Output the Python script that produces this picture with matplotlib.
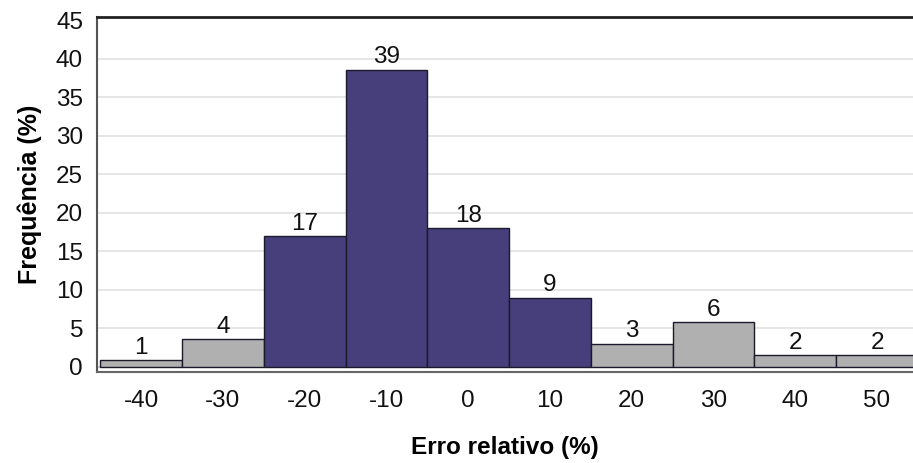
import matplotlib
matplotlib.use("Agg")
import matplotlib.pyplot as plt

categories = ["-40", "-30", "-20", "-10", "0", "10", "20", "30", "40", "50"]
heights = [0.9, 3.6, 17.0, 38.6, 18.0, 9.0, 3.0, 5.8, 1.5, 1.5]
labels = ["1", "4", "17", "39", "18", "9", "3", "6", "2", "2"]
highlight = [False, False, True, True, True, True, False, False, False, False]

navy = "#463F7C"
gray = "#B0B0B0"

plt.rcParams['font.family'] = ['Liberation Sans', 'DejaVu Sans']

fig = plt.figure(figsize=(9.13, 4.63), dpi=100)
ax = fig.add_axes([97/913, 1-372/463, 1-97/913, (372-17)/463])

x = list(range(len(categories)))
colors = [navy if h else gray for h in highlight]
ax.bar(x, heights, width=1.0, color=colors, edgecolor="#1a1a2a", linewidth=1.0, zorder=3)

for xi, h, lab in zip(x, heights, labels):
    ax.text(xi, h + 0.2, lab, ha="center", va="bottom", fontsize=17.5, color="#111111", zorder=4)

ax.set_xlim(-0.54, 9.44)
ax.set_ylim(-0.65, 45.45)
ax.set_yticks(range(0, 46, 5))
ax.set_xticks(x)
ax.set_xticklabels(categories)
ax.tick_params(axis="both", length=0, labelsize=17.5, colors="#111111")
ax.tick_params(axis="y", pad=10)
ax.tick_params(axis="x", pad=13)

for yv in range(5, 46, 5):
    if yv < 45:
        ax.axhline(yv, color="#E2E2E2", linewidth=1.2, zorder=1)
ax.axhline(0, color="#C8C8C8", linewidth=1.2, zorder=1)

ax.spines["right"].set_visible(False)
ax.spines["top"].set_color("#222222")
ax.spines["top"].set_linewidth(2.0)
ax.spines["left"].set_color("#555555")
ax.spines["left"].set_linewidth(1.5)
ax.spines["bottom"].set_color("#666666")
ax.spines["bottom"].set_linewidth(1.5)

ax.set_xlabel("Erro relativo (%)", fontsize=17.5, fontweight="bold", labelpad=17)
ax.set_ylabel("Frequência (%)", fontsize=18, fontweight="bold", labelpad=10)

fig.savefig("out.png", dpi=100)
